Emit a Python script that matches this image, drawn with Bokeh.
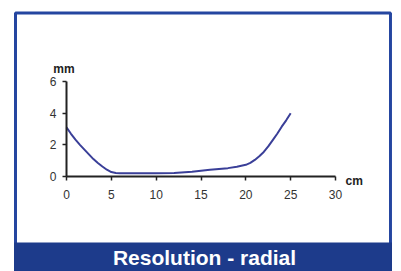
from bokeh.plotting import figure
from bokeh.models import LinearAxis, FixedTicker, Range1d, Label, ColumnDataSource
from bokeh.embed import file_html
from bokeh.resources import INLINE

# data
dist_cm = [0, 0.5, 1, 1.5, 2, 2.5, 3, 3.5, 4, 4.5, 5, 5.5, 6, 8, 10, 12, 14, 15, 16, 17,
           18, 19, 20, 20.5, 21, 21.5, 22, 22.5, 23, 23.5, 24, 24.5, 25]
res_mm = [3.1, 2.7, 2.33, 2.0, 1.7, 1.4, 1.1, 0.85, 0.63, 0.43, 0.28, 0.22, 0.2, 0.2,
          0.2, 0.22, 0.3, 0.37, 0.43, 0.48, 0.53, 0.62, 0.74, 0.86, 1.05, 1.28, 1.55,
          1.9, 2.3, 2.7, 3.15, 3.55, 4.0]
x_ticks = [0, 5, 10, 15, 20, 25, 30]
y_ticks = [0, 2, 4, 6]
x_unit = "cm"
y_unit = "mm"
title_text = "Resolution - radial"

FONT = "Liberation Sans"
BLUE = "#1d3b8b"

p = figure(width=401, height=271, output_backend="svg", toolbar_location=None,
           x_axis_location=None, y_axis_location=None,
           x_range=Range1d(-7.36, 37.36), y_range=Range1d(-6.0, 11.12),
           min_border=0, outline_line_color=None)
p.grid.visible = False
p.background_fill_color = "white"
p.border_fill_color = "white"

# outer frame and banner
p.quad(left=[-5.69], right=[36.13], top=[10.33], bottom=[-7], fill_color=None,
       line_color="#2546a0", line_width=3)
p.quad(left=[-5.85], right=[36.3], top=[-4.17], bottom=[-7], fill_color=BLUE,
       line_color=None)
p.add_layout(Label(x=15.39, y=-5.12, text=title_text, text_align="center",
                   text_baseline="middle", text_color="white", text_font=FONT,
                   text_font_size="21px", text_font_style="bold"))

# curve
src = ColumnDataSource(dict(x=dist_cm, y=res_mm))
p.line("x", "y", source=src, line_color="#3a3f98", line_width=2)

def style(ax):
    ax.axis_line_color = "#222222"
    ax.axis_line_width = 2
    ax.major_tick_line_color = "#222222"
    ax.major_tick_line_width = 1.5
    ax.major_tick_in = 0
    ax.major_tick_out = 4
    ax.minor_tick_line_color = None
    ax.major_label_text_font = FONT
    ax.major_label_text_font_size = "12px"
    ax.major_label_text_color = "#333333"

xa = LinearAxis(fixed_location=0, bounds=(0, 30), ticker=FixedTicker(ticks=x_ticks))
style(xa)
xa.major_label_standoff = 9
p.add_layout(xa, "below")

ya = LinearAxis(fixed_location=0, bounds=(0, 6), ticker=FixedTicker(ticks=y_ticks))
style(ya)
ya.major_label_standoff = 6
p.add_layout(ya, "left")

p.add_layout(Label(x=0, y=6, text=y_unit, text_align="center", text_baseline="middle",
                   x_offset=-2.5, y_offset=13, text_font=FONT, text_font_size="12px",
                   text_font_style="bold", text_color="#222222"))
p.add_layout(Label(x=30, y=0, text=x_unit, text_align="left", text_baseline="middle",
                   x_offset=10, y_offset=-4.5, text_font=FONT, text_font_size="12px",
                   text_font_style="bold", text_color="#222222"))

html = file_html(p, INLINE)
html = html.replace("<head>", "<head><style>html,body{overflow:hidden}</style>", 1)
open("out.html", "w").write(html)
